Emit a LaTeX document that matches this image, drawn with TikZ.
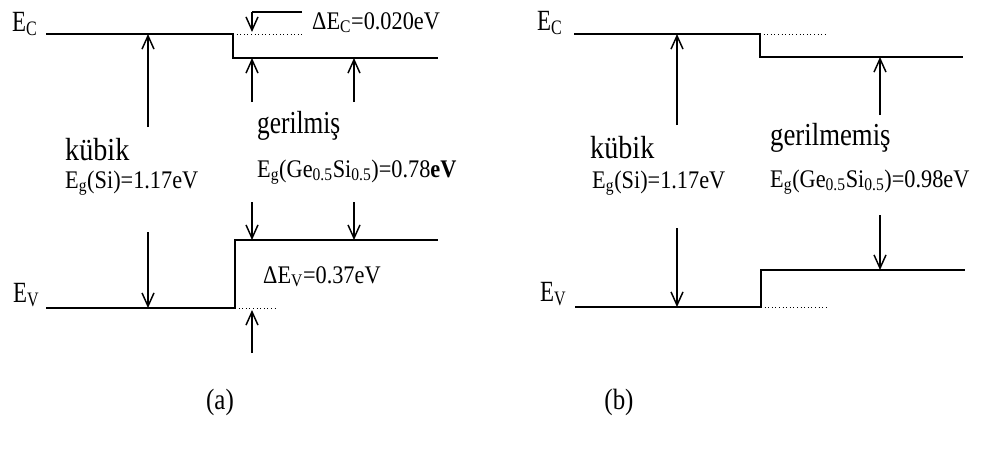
\documentclass[tikz,border=0pt]{standalone}
\usepackage{fontspec}
\setmainfont{Liberation Serif}
\usetikzlibrary{arrows.meta}

\tikzset{
    band/.style={line width=2.2pt},
    ghost/.style={line width=0.7pt, dotted},
    gaparrow/.style={line width=1.1pt, -{Straight Barb[length=10pt,width=9pt]}},
    edge/.style={font=\fontsize{22}{24}\selectfont, xscale=0.78, anchor=base west, inner sep=0pt},
    big/.style={font=\fontsize{24}{26}\selectfont, xscale=0.88, anchor=base west, inner sep=0pt},
    small/.style={font=\fontsize{19}{21}\selectfont, xscale=0.88, anchor=base west, inner sep=0pt},
    caption/.style={font=\fontsize{22}{24}\selectfont, xscale=0.85}
}

\begin{document}
\begin{tikzpicture}[x=0.75pt,y=0.75pt,yscale=-1,xscale=1]
        \useasboundingbox (0,0) rectangle (987,454);
        % (a) gerilmis
        \coordinate (ecA0) at (46,34);   \coordinate (ecA1) at (233,34);
        \coordinate (ecA2) at (233,58);  \coordinate (ecA3) at (438,58);
        \coordinate (evA0) at (46,308);  \coordinate (evA1) at (235,308);
        \coordinate (evA2) at (235,240); \coordinate (evA3) at (438,240);
        \draw [band] (ecA0) -- (ecA1) -- (ecA2) -- (ecA3);
        \draw [band] (evA0) -- (evA1) -- (evA2) -- (evA3);
        \draw [ghost] (ecA1) -- (302,34);
        \draw [ghost] (evA1) -- (277,308);
        % delta E_C
        \coordinate (dcA0) at (302,12);  \coordinate (dcA1) at (252,12);
        \draw [line width=2pt] (dcA0) -- (dcA1);
        \draw [gaparrow] (dcA1) -- (252,32);
        % gap arrows
        \draw [gaparrow] (148,127) -- (148,34);
        \draw [gaparrow] (148,232) -- (148,308);
        \foreach \x in {252,354}{
            \draw [gaparrow] (\x,102) -- (\x,58);
            \draw [gaparrow] (\x,202) -- (\x,240);
        }
        \draw [gaparrow] (252,353) -- (252,310);
        % (b) gerilmemis
        \coordinate (ecB0) at (574,34);  \coordinate (ecB1) at (760,34);
        \coordinate (ecB2) at (760,57);  \coordinate (ecB3) at (963,57);
        \coordinate (evB0) at (575,307); \coordinate (evB1) at (761,307);
        \coordinate (evB2) at (761,270); \coordinate (evB3) at (965,270);
        \draw [band] (ecB0) -- (ecB1) -- (ecB2) -- (ecB3);
        \draw [band] (evB0) -- (evB1) -- (evB2) -- (evB3);
        \draw [ghost] (ecB1) -- (827,34);
        \draw [ghost] (evB1) -- (827,307);
        \draw [gaparrow] (677,125) -- (677,34);
        \draw [gaparrow] (677,228) -- (677,307);
        \draw [gaparrow] (880,115) -- (880,57);
        \draw [gaparrow] (880,215) -- (880,270);
        % labels
        \node [edge] (ecLblA) at (12,31) {E\textsubscript{C}};
        \node [edge] (evLblA) at (13,302) {E\textsubscript{V}};
        \node [edge] (ecLblB) at (537,30) {E\textsubscript{C}};
        \node [edge] (evLblB) at (540,301) {E\textsubscript{V}};
        \node [small] (dEc) at (312,29) {ΔE\textsubscript{C}=0.020eV};
        \node [small] (dEv) at (263,283) {ΔE\textsubscript{V}=0.37eV};
        \node [big] (kubA) at (65,160) {kübik};
        \node [small] (egSiA) at (65,188) {E\textsubscript{g}(Si)=1.17eV};
        \node [big, xscale=0.9] (gerA) at (257,133) {gerilmiş};
        \node [small] (egGeA) at (257,177) {E\textsubscript{g}(Ge\textsubscript{0.5}Si\textsubscript{0.5})=0.78\textbf{eV}};
        \node [big] (kubB) at (590,158) {kübik};
        \node [small] (egSiB) at (592,188) {E\textsubscript{g}(Si)=1.17eV};
        \node [big, xscale=0.95] (gerB) at (770,145) {gerilmemiş};
        \node [small] (egGeB) at (770,187) {E\textsubscript{g}(Ge\textsubscript{0.5}Si\textsubscript{0.5})=0.98eV};
        \node [caption] (capA) at (220,402) {(a)};
        \node [caption] (capB) at (619,402) {(b)};
    \end{tikzpicture}
\end{document}
